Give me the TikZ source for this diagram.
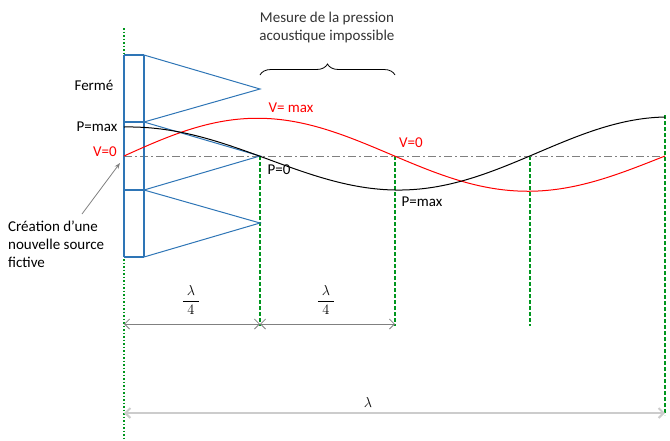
\documentclass[tikz,border=0pt]{standalone}
\usepackage{fontspec}
\setmainfont{Carlito}
\usetikzlibrary{arrows.meta,decorations.pathreplacing}

\definecolor{wallblue}{RGB}{46,117,182}
\definecolor{guidegreen}{RGB}{0,150,30}

\begin{document}
\begin{tikzpicture}[x=1pt,y=-1pt,
    wall/.style={draw=wallblue, line width=2.2pt},
    cone/.style={draw=wallblue, line width=1pt},
    guide/.style={draw=guidegreen, line width=1.2pt, dash pattern=on 4pt off 2pt},
    lbl/.style={font=\fontsize{15}{18}\selectfont, inner sep=1pt},
    dimline/.style={draw=gray, line width=0.8pt, {Straight Barb[length=5pt,width=10pt]}-{Straight Barb[length=5pt,width=10pt]}}]
  \useasboundingbox (0,0) rectangle (670,440);
  % positions
  \coordinate (o) at (124,156);
  \coordinate (q1) at (260,156);
  \coordinate (q2) at (395,156);
  \coordinate (q3) at (530,156);
  \coordinate (q4) at (665,156);
  % guides
  \draw[draw=guidegreen, line width=1.5pt, dotted] (124,28) -- (124,440);
  \draw[guide] (q1) -- (260,326);
  \draw[guide] (q2) -- (395,326);
  \draw[guide] (q3) -- (530,326);
  \draw[guide] (665,115) -- (665,415);
  \draw[gray, line width=0.8pt, dash pattern=on 8pt off 3pt on 2pt off 3pt] (o) -- (q4);
  % closed end and cones
  \draw[wall] (124,55) -- (124,257);
  \draw[wall] (144,55) -- (144,257);
  \foreach \y in {55,122,190,257}
    \draw[wall] (124,\y) -- (144,\y);
  \draw[cone] (144,55) -- (260,89) -- (144,122) -- (260,156) -- (144,190) -- (260,223) -- (144,257);
  % waves
  \draw[red, line width=1pt] plot[domain=124:665, samples=120] (\x, {156-(39-5*(\x-124)/541)*sin((\x-124)/541*360)});
  \draw[black, line width=1pt] plot[domain=124:665, samples=120] (\x, {156-(29+10*(\x-124)/541)*cos((\x-124)/541*360)});
  % labels
  \node[lbl] (ferme) at (94,85) {Fermé};
  \node[lbl] (pmaxl) at (97,127) {P=max};
  \node[lbl, text=red] (v0l) at (105,152) {V=0};
  \node[lbl, text=red] (vmax) at (291,108) {V= max};
  \node[lbl] (p0) at (279,170) {P=0};
  \node[lbl, text=red] (v0m) at (411,143) {V=0};
  \node[lbl] (pmaxm) at (422,202) {P=max};
  \node[lbl, align=left, anchor=west] (source) at (7,244) {Création d'une\\nouvelle source\\fictive};
  \draw[gray, line width=0.8pt, -{Stealth[length=6pt]}] (82,214) -- (120,163);
  % brace
  \draw[line width=0.8pt, decorate, decoration={brace, amplitude=11pt}] (260,75) -- (395,75);
  \node[lbl, text=black!80, align=center] (mesure) at (327,27) {Mesure de la pression\\acoustique impossible};
  % dimensions
  \coordinate (d0) at (124,324);
  \coordinate (d1) at (260,324);
  \coordinate (d2) at (395,324);
  \draw[dimline] (d0) -- (d1);
  \draw[dimline] (d1) -- (d2);
  \node[lbl] (quart1) at (191,300) {$\displaystyle\frac{\;\lambda\;}{\;4\;}$};
  \node[lbl] (quart2) at (326,300) {$\displaystyle\frac{\;\lambda\;}{\;4\;}$};
  \coordinate (e0) at (124,413);
  \coordinate (e1) at (665,413);
  \draw[dimline, draw=black!20, line width=2pt] (e0) -- (e1);
  \node[lbl] (lam) at (368,402) {$\lambda$};
\end{tikzpicture}
\end{document}
